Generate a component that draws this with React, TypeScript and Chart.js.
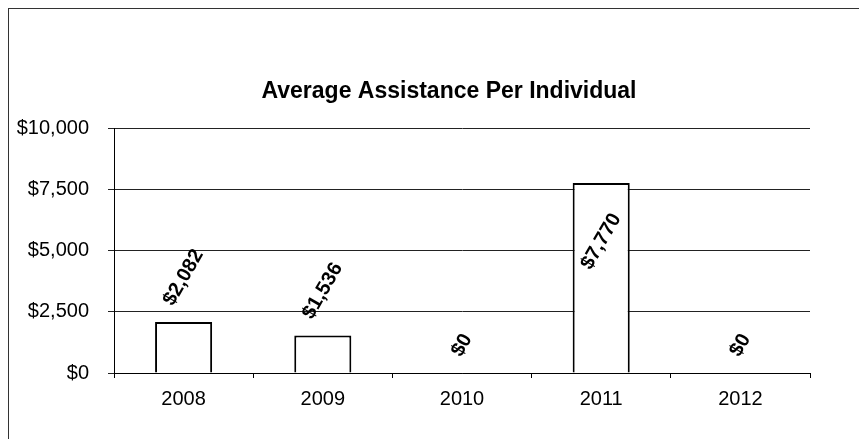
import React, { useEffect, useRef } from "react";
import { Chart, registerables } from "chart.js";

Chart.register(...registerables);

const categories = ["2008", "2009", "2010", "2011", "2012"];
const averageAssistance = [2082, 1536, 0, 7770, 0];
const yTickValues = [0, 2500, 5000, 7500, 10000];
const chartTitle = "Average Assistance Per Individual";

const FONT = "'Liberation Sans', Arial, Helvetica, sans-serif";

const fmt = (v: number) => "$" + v.toLocaleString("en-US");

const labelPlugin = {
  id: "rotLabels",
  afterDatasetsDraw(chart: any) {
    const ctx = chart.ctx;
    const meta = chart.getDatasetMeta(0);
    const data = chart.data.datasets[0].data as number[];
    const area = chart.chartArea;
    const ang = (60 * Math.PI) / 180;
    const fs = 20;
    ctx.save();
    ctx.font = `bold ${fs}px ${FONT}`;
    ctx.fillStyle = "#000";
    ctx.textAlign = "center";
    ctx.textBaseline = "middle";
    meta.data.forEach((bar: any, i: number) => {
      const text = fmt(data[i]);
      const w = ctx.measureText(text).width;
      const extent = w * Math.sin(ang) + fs * Math.cos(ang);
      const top = bar.y;
      let cy = top - 13 - extent / 2;
      if (cy - extent / 2 < area.top) {
        cy = top + 27 + extent / 2;
      }
      ctx.save();
      ctx.translate(bar.x, cy);
      ctx.rotate(-ang);
      ctx.fillText(text, 0, 0);
      ctx.restore();
    });
    ctx.restore();
  },
};

export default function App() {
  const ref = useRef<HTMLCanvasElement | null>(null);

  useEffect(() => {
    if (!ref.current) return;
    const chart = new Chart(ref.current, {
      type: "bar",
      data: {
        labels: categories,
        datasets: [
          {
            data: averageAssistance,
            backgroundColor: "#ffffff",
            borderColor: "#000000",
            borderWidth: 2,
            barPercentage: 0.41,
            categoryPercentage: 1,
            yAxisID: "y",
          },
        ],
      },
      options: {
        responsive: false,
        animation: false,
        devicePixelRatio: 1,
        layout: { padding: { left: 0, right: 0, top: 0, bottom: 19 } },
        plugins: {
          legend: { display: false },
          tooltip: { enabled: false },
          title: {
            display: true,
            text: chartTitle,
            color: "#000",
            font: { family: FONT, size: 23, weight: "bold", lineHeight: 1.2 },
            padding: { top: 70, bottom: 23 },
          },
        },
        scales: {
          x: {
            grid: {
              display: true,
              drawOnChartArea: false,
              tickLength: 5,
              color: "#000",
              offset: true,
            },
            border: { display: true, color: "#000", width: 1 },
            ticks: {
              color: "#000",
              padding: 9,
              font: { family: FONT, size: 20, lineHeight: 1.2 },
              maxRotation: 0,
            },
          },
          y: {
            min: 0,
            max: 10000,
            afterFit(scale: any) {
              scale.width = 106;
            },
            afterBuildTicks(scale: any) {
              scale.ticks = yTickValues.map((v) => ({ value: v }));
            },
            grid: { color: "#222", lineWidth: 1, tickLength: 6 },
            border: { display: true, color: "#000", width: 1 },
            ticks: {
              color: "#000",
              padding: 19,
              font: { family: FONT, size: 20, lineHeight: 1.2 },
              callback: (v: any) => fmt(Number(v)),
            },
          },
          spacer: {
            type: "linear",
            position: "right",
            display: true,
            grid: { display: false, drawTicks: false },
            ticks: { display: false },
            border: { display: false },
            afterFit(scale: any) {
              scale.width = 80;
            },
          },
        },
      },
      plugins: [labelPlugin],
    });
    return () => chart.destroy();
  }, []);

  return (
    <div style={{ position: "relative", width: 851, height: 431, overflow: "hidden" }}>
      <canvas
        ref={ref}
        width={882}
        height={431}
        style={{ position: "absolute", left: 0, top: 0, display: "block" }}
      />
      <div
        style={{
          position: "absolute",
          left: 0,
          top: -1,
          width: 851,
          height: 432,
          borderTop: "2px solid #333",
          borderLeft: "1px solid #333",
          boxSizing: "border-box",
          pointerEvents: "none",
        }}
      />
    </div>
  );
}
